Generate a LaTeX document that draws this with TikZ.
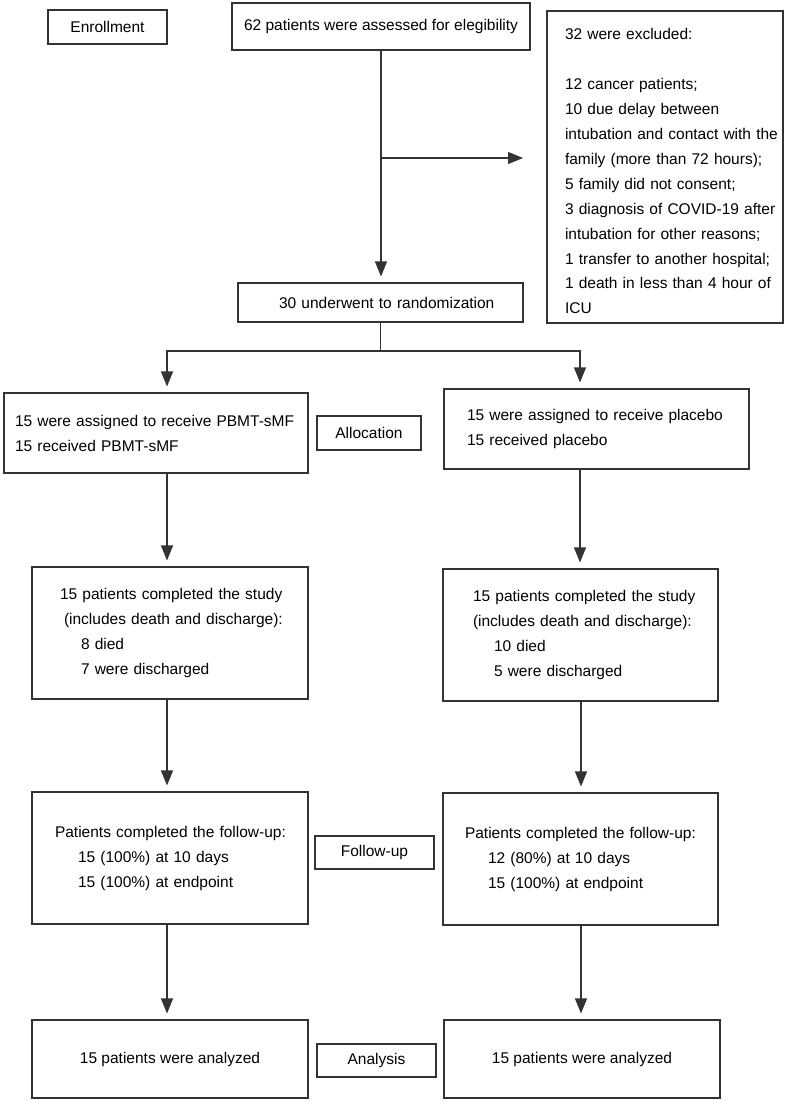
\documentclass[tikz,border=0pt]{standalone}
\usepackage{fontspec}
\setmainfont{Liberation Sans}
\usetikzlibrary{arrows.meta}
\begin{document}
\begin{tikzpicture}[x=1pt,y=-1pt,
  base/.style={draw=black!80, line width=1.1pt, inner sep=0pt},
  bx/.style={base, align=left, font=\fontsize{15.5}{25}\selectfont},
  lbl/.style={base, align=center, font=\fontsize{15.5}{25}\selectfont},
  ln/.style={draw=black!80, line width=1.1pt},
  arr/.style={ln, -{Triangle[length=15pt,width=12pt]}, shorten >=6pt}]
\useasboundingbox[fill=white] (0,0) rectangle (786,1102);

% top row
\node[lbl, minimum width=119pt, minimum height=34pt] (enroll) at (107.5,27) {Enrollment};
\node[lbl, minimum width=298pt, minimum height=47pt] (assess) at (381,26.5) {62 patients were assessed for elegibility};
\node[bx, text width=236pt, minimum height=312pt, font=\fontsize{15.5}{24.9}\selectfont] (excl) at (665,167) {%
\rule{0pt}{20pt}\hspace*{18pt}32 were excluded:\\
\mbox{}\\
\hspace*{18pt}12 cancer patients;\\
\hspace*{18pt}10 due delay between\\
\hspace*{18pt}\mbox{intubation and contact with the}\\
\hspace*{18pt}family (more than 72 hours);\\
\hspace*{18pt}5 family did not consent;\\
\hspace*{18pt}3 diagnosis of COVID-19 after\\
\hspace*{18pt}intubation for other reasons;\\
\hspace*{18pt}1 transfer to another hospital;\\
\hspace*{18pt}1 death in less than 4 hour of\\
\hspace*{18pt}ICU};

\node[bx, text width=285pt, minimum height=39pt] (rand) at (380.5,302.5) {\hspace*{41pt}30 underwent to randomization};

% allocation
\node[bx, text width=304pt, minimum height=80pt] (a1) at (156,433) {%
\hspace*{11pt}\mbox{15 were assigned to receive PBMT-sMF}\\
\hspace*{11pt}15 received PBMT-sMF};
\node[lbl, minimum width=104pt, minimum height=34pt] (alloc) at (369,433) {Allocation};
\node[bx, text width=305pt, minimum height=80pt] (a2) at (596.5,429) {%
\hspace*{23pt}15 were assigned to receive placebo\\
\hspace*{23pt}15 received placebo};

% completed
\node[bx, text width=276pt, minimum height=132pt] (c1) at (170,633) {%
\hspace*{28pt}15 patients completed the study\\
\hspace*{32pt}(includes death and discharge):\\
\hspace*{49pt}8 died\\
\hspace*{49pt}7 were discharged};
\node[bx, text width=275pt, minimum height=132pt] (c2) at (580.5,635) {%
\hspace*{30pt}15 patients completed the study\\
\hspace*{30pt}(includes death and discharge):\\
\hspace*{51pt}10 died\\
\hspace*{51pt}5 were discharged};

% follow-up
\node[bx, text width=276pt, minimum height=132pt] (f1) at (170,858) {%
\hspace*{23pt}Patients completed the follow-up:\\
\hspace*{46pt}15 (100\%) at 10 days\\
\hspace*{46pt}15 (100\%) at endpoint};
\node[lbl, minimum width=119pt, minimum height=33pt] (fu) at (374.5,852.5) {Follow-up};
\node[bx, text width=275pt, minimum height=132pt] (f2) at (580.5,859) {%
\hspace*{22pt}Patients completed the follow-up:\\
\hspace*{45pt}12 (80\%) at 10 days\\
\hspace*{45pt}15 (100\%) at endpoint};

% analysis
\node[lbl, minimum width=276pt, minimum height=78pt] (n1) at (170,1059) {15 patients were analyzed};
\node[lbl, minimum width=119pt, minimum height=33pt] (an) at (376.5,1060.5) {Analysis};
\node[lbl, minimum width=276pt, minimum height=78pt] (n2) at (582,1059) {15 patients were analyzed};

% connectors
\coordinate (exbr) at (381,158);
\coordinate (exend) at (523,158);
\coordinate (split) at (380.5,351);
\draw[arr] (assess.south) -- (assess.south |- rand.north);
\draw[arr, shorten >=0pt] (exbr) -- (exend);
\draw[ln] (rand.south) -- (split);
\draw[arr] (split) -| (167,0 |- a1.north);
\draw[arr] (split) -| (580,0 |- a2.north);
\draw[arr] (167,0 |- a1.south) -- (167,0 |- c1.north);
\draw[arr] (580,0 |- a2.south) -- (580,0 |- c2.north);
\draw[arr] (167,0 |- c1.south) -- (167,0 |- f1.north);
\draw[arr] (581,0 |- c2.south) -- (581,0 |- f2.north);
\draw[arr] (167,0 |- f1.south) -- (167,0 |- n1.north);
\draw[arr] (581,0 |- f2.south) -- (581,0 |- n2.north);
\end{tikzpicture}
\end{document}
